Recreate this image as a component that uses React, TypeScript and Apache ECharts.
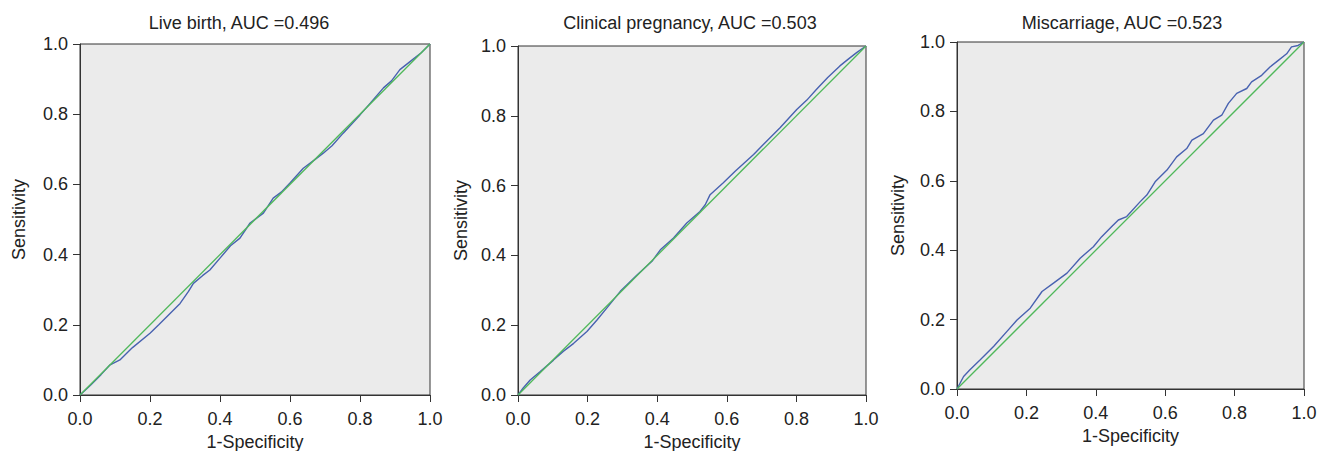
import React, { useEffect, useRef } from "react";
import * as echarts from "echarts";

const titles = ["Live birth, AUC =0.496", "Clinical pregnancy, AUC =0.503", "Miscarriage, AUC =0.523"];
const xAxisName = "1-Specificity";
const yAxisName = "Sensitivity";

const liveBirthFpr = [0, 0.03, 0.06, 0.086, 0.114, 0.15, 0.2, 0.225, 0.248, 0.286, 0.31, 0.324, 0.35, 0.371, 0.4, 0.43, 0.457, 0.486, 0.524, 0.552, 0.575, 0.6, 0.638, 0.67, 0.695, 0.72, 0.752, 0.8, 0.83, 0.867, 0.89, 0.914, 0.952, 0.975, 1];
const liveBirthTpr = [0, 0.028, 0.058, 0.086, 0.1, 0.135, 0.176, 0.2, 0.223, 0.261, 0.295, 0.318, 0.34, 0.356, 0.39, 0.425, 0.447, 0.49, 0.518, 0.561, 0.578, 0.604, 0.646, 0.67, 0.689, 0.71, 0.746, 0.798, 0.832, 0.875, 0.895, 0.927, 0.957, 0.975, 1];

const pregnancyFpr = [0, 0.015, 0.035, 0.064, 0.102, 0.13, 0.16, 0.198, 0.227, 0.255, 0.294, 0.342, 0.385, 0.409, 0.447, 0.485, 0.523, 0.538, 0.552, 0.59, 0.624, 0.677, 0.705, 0.753, 0.801, 0.83, 0.858, 0.89, 0.925, 0.95, 0.973, 1];
const pregnancyTpr = [0, 0.02, 0.043, 0.067, 0.1, 0.125, 0.148, 0.182, 0.215, 0.249, 0.297, 0.344, 0.383, 0.416, 0.45, 0.493, 0.526, 0.545, 0.574, 0.608, 0.641, 0.689, 0.718, 0.766, 0.818, 0.845, 0.876, 0.91, 0.943, 0.963, 0.981, 1];

const miscarriageFpr = [0, 0.019, 0.038, 0.067, 0.106, 0.144, 0.173, 0.211, 0.245, 0.278, 0.317, 0.355, 0.393, 0.417, 0.446, 0.465, 0.489, 0.528, 0.547, 0.571, 0.605, 0.633, 0.662, 0.677, 0.71, 0.739, 0.763, 0.782, 0.806, 0.835, 0.849, 0.878, 0.902, 0.926, 0.95, 0.964, 0.983, 1];
const miscarriageTpr = [0, 0.036, 0.056, 0.084, 0.123, 0.166, 0.199, 0.233, 0.281, 0.305, 0.334, 0.377, 0.41, 0.439, 0.468, 0.487, 0.497, 0.54, 0.559, 0.597, 0.631, 0.669, 0.693, 0.717, 0.736, 0.775, 0.789, 0.823, 0.852, 0.866, 0.885, 0.904, 0.928, 0.947, 0.966, 0.986, 0.99, 1];

const refFpr = [0, 1];
const refTpr = [0, 1];

const curves = [
  [liveBirthFpr, liveBirthTpr],
  [pregnancyFpr, pregnancyTpr],
  [miscarriageFpr, miscarriageTpr],
];

const grids = [
  { left: 80, top: 44, width: 350, height: 351 },
  { left: 518, top: 46, width: 348, height: 349 },
  { left: 957, top: 42, width: 347, height: 347 },
];
const titleCenters = [234, 685, 1117];
const yNameGaps = [52, 48, 50];
const xNameGaps = [30, 30, 34];

const FONT = "'Liberation Sans', Arial, Helvetica, sans-serif";
const TEXT = "#222";

export default function App() {
  const ref = useRef<HTMLDivElement>(null);
  useEffect(() => {
    document.body.style.margin = "0";
    const chart = echarts.init(ref.current!, null, { renderer: "svg" });
    const zip = (a: number[], b: number[]) => a.map((v, i) => [v, b[i]]);
    const option: any = {
      animation: false,
      textStyle: { fontFamily: FONT },
      title: titles.map((t, i) => ({
        text: t,
        left: titleCenters[i],
        top: 9,
        textAlign: "center",
        textStyle: { fontSize: 18, fontWeight: "normal", color: TEXT, fontFamily: FONT },
      })),
      grid: grids.map((g) => ({
        ...g,
        show: true,
        containLabel: false,
        outerBoundsMode: "none",
        backgroundColor: "#ebebeb",
        borderColor: "#333",
        borderWidth: 1,
      })),
      xAxis: grids.map((_, i) => ({
        type: "value",
        gridIndex: i,
        min: 0,
        max: 1,
        interval: 0.2,
        name: xAxisName,
        nameLocation: "middle",
        nameGap: xNameGaps[i],
        nameTextStyle: { fontSize: 18, color: TEXT, fontFamily: FONT },
        axisLine: { show: true, lineStyle: { color: "#333", width: 1 } },
        axisTick: { show: true, length: 7, lineStyle: { color: "#333" } },
        axisLabel: {
          fontSize: 18,
          color: TEXT,
          margin: 15,
          fontFamily: FONT,
          formatter: (v: number) => v.toFixed(1),
        },
        splitLine: { show: false },
      })),
      yAxis: grids.map((_, i) => ({
        type: "value",
        gridIndex: i,
        min: 0,
        max: 1,
        interval: 0.2,
        name: yAxisName,
        nameLocation: "middle",
        nameGap: yNameGaps[i],
        nameTextStyle: { fontSize: 18, color: TEXT, fontFamily: FONT },
        axisLine: { show: true, lineStyle: { color: "#333", width: 1 } },
        axisTick: { show: true, length: 7, lineStyle: { color: "#333" } },
        axisLabel: {
          fontSize: 18,
          color: TEXT,
          margin: 12,
          fontFamily: FONT,
          formatter: (v: number) => v.toFixed(1),
        },
        splitLine: { show: false },
      })),
      series: [
        ...curves.map(([fx, ty], i) => ({
          type: "line",
          xAxisIndex: i,
          yAxisIndex: i,
          data: zip(fx, ty),
          showSymbol: false,
          symbol: "none",
          lineStyle: { color: "#4862b0", width: 1.4 },
          z: 3,
        })),
        ...grids.map((_, i) => ({
          type: "line",
          xAxisIndex: i,
          yAxisIndex: i,
          data: zip(refFpr, refTpr),
          showSymbol: false,
          symbol: "none",
          lineStyle: { color: "#4fb85a", width: 1.3 },
          z: 4,
        })),
      ],
    };
    chart.setOption(option);
    return () => chart.dispose();
  }, []);
  return <div ref={ref} style={{ width: 1319, height: 451 }} />;
}
